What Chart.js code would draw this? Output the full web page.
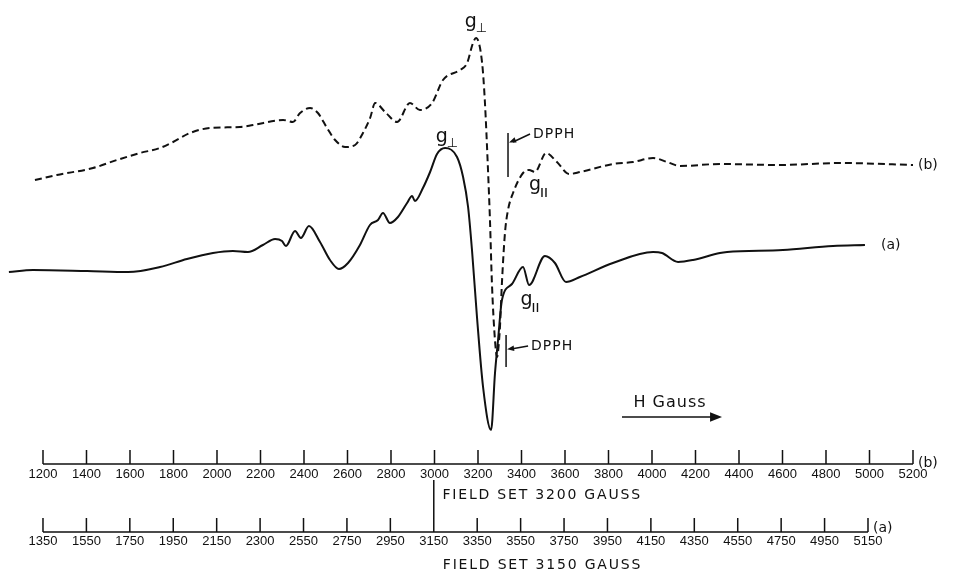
<!DOCTYPE html>
<html>
<head>
<meta charset="utf-8">
<script src="https://cdn.jsdelivr.net/npm/chart.js@4.4.1/dist/chart.umd.min.js"></script>
<style>
    html, body { margin: 0; padding: 0; background: #fff; }
    #wrap { width: 962px; height: 573px; position: relative; }
</style>
</head>
<body>
<div id="wrap"><canvas id="epr-chart"></canvas></div>
<script>
// Spectrum (a), field set 3150 G (lower field scale), arbitrary signal units
const fieldA = [1193, 1304, 1553, 1742, 1889, 2013, 2133, 2225, 2294, 2363, 2419, 2451, 2469, 2511, 2538,
    2575, 2626, 2672, 2713, 2755, 2810, 2856, 2893, 2916, 2948, 2985, 3027, 3050, 3063, 3100, 3133, 3165,
    3202, 3257, 3285, 3308, 3326, 3349, 3377, 3414, 3432, 3446, 3464, 3510, 3561, 3589, 3662, 3708, 3759, 3823,
    3975, 4160, 4201, 4275, 4344, 4468, 4501, 4758, 4989, 5136];
const signalA = [-2, 0, -1, -2, 3, 11, 17, 19, 18, 25, 31, 29, 24, 39, 32,
    44, 28, 10, 1, 7, 25, 45, 50, 57, 47, 53, 67, 74, 69, 82, 98, 116,
    122, 113, 93, 63, 20, -47, -117, -160, -103, -70, -30, -14, 3, -15, 14, 7, -12, -7,
    7, 18, 17, 8, 10, 17, 18, 20, 24, 25];

// Spectrum (b), field set 3200 G (upper field scale)
const fieldB = [1163, 1264, 1430, 1540, 1646, 1738, 1798, 1876, 1968, 2106, 2166, 2304, 2349, 2382, 2428,
    2464, 2506, 2543, 2589, 2635, 2671, 2704, 2727, 2773, 2828, 2887, 2933, 2989, 3039, 3117, 3150, 3177,
    3191, 3219, 3232, 3246, 3255, 3264, 3278, 3288, 3297, 3301, 3310, 3324, 3338, 3361, 3407, 3435, 3462,
    3513, 3563, 3619, 3669, 3821, 3913, 4005, 4069, 4129, 4313, 4589, 4865, 5200];
const signalB = [90, 95, 102, 110, 117, 122, 128, 137, 142, 143, 145, 150, 148, 157, 162,
    157, 142, 130, 123, 125, 137, 152, 167, 158, 148, 167, 160, 167, 190, 200, 207, 227,
    232, 207, 167, 100, 50, -13, -70, -87, -70, -57, -13, 37, 60, 77, 97, 100, 98,
    117, 108, 96, 98, 106, 108, 112, 108, 104, 106, 105, 107, 105];

// Field scales printed under the spectra
const ticksB = [1200, 1400, 1600, 1800, 2000, 2200, 2400, 2600, 2800, 3000, 3200,
    3400, 3600, 3800, 4000, 4200, 4400, 4600, 4800, 5000, 5200];
const ticksA = [1350, 1550, 1750, 1950, 2150, 2350, 2550, 2750, 2950, 3150,
    3350, 3550, 3750, 3950, 4150, 4350, 4550, 4750, 4950, 5150];
const tickLabelsA = ['1350', '1550', '1750', '1950', '2150', '2300', '2550', '2750', '2950', '3150',
    '3350', '3550', '3750', '3950', '4150', '4350', '4550', '4750', '4950', '5150'];

const toPoints = (xs, ys) => xs.map((x, i) => ({x: x, y: ys[i]}));

function drawArrowHead(ctx, x, y, angle, size) {
    ctx.save();
    ctx.translate(x, y);
    ctx.rotate(angle);
    ctx.beginPath();
    ctx.moveTo(0, 0);
    ctx.lineTo(-size, -size * 0.4);
    ctx.lineTo(-size, size * 0.4);
    ctx.closePath();
    ctx.fill();
    ctx.restore();
}

function drawG(ctx, x, y, sub) {
    ctx.font = '19px "DejaVu Sans"';
    ctx.textAlign = 'center';
    ctx.textBaseline = 'middle';
    ctx.fillText('g', x, y);
    ctx.textAlign = 'left';
    if (sub === 'perp') {
        ctx.font = '13px "DejaVu Sans"';
        ctx.fillText('\u22A5', x + 5, y + 7);
    } else {
        // parallel: two short upright bars
        ctx.lineWidth = 1.4;
        ctx.beginPath();
        ctx.moveTo(x + 7, y + 3);
        ctx.lineTo(x + 7, y + 12);
        ctx.moveTo(x + 11, y + 3);
        ctx.lineTo(x + 11, y + 12);
        ctx.stroke();
    }
}

const eprAnnotations = {
    id: 'eprAnnotations',
    afterDatasetsDraw(chart) {
        const {ctx} = chart;
        const xa = chart.scales.xa, xb = chart.scales.xb, y = chart.scales.y;
        ctx.save();
        ctx.fillStyle = '#111';
        ctx.strokeStyle = '#111';
        ctx.lineWidth = 1.5;

        // upper field scale (b)
        const yB = y.getPixelForValue(-194);
        ctx.beginPath();
        ctx.moveTo(xb.getPixelForValue(ticksB[0]), yB);
        ctx.lineTo(xb.getPixelForValue(ticksB[ticksB.length - 1]), yB);
        ticksB.forEach(t => {
            const px = xb.getPixelForValue(t);
            ctx.moveTo(px, yB);
            ctx.lineTo(px, yB - 14);
        });
        ctx.stroke();
        ctx.font = '13px "Liberation Sans"';
        ctx.textAlign = 'center';
        ctx.textBaseline = 'middle';
        ticksB.forEach(t => ctx.fillText(String(t), xb.getPixelForValue(t), yB + 10));

        // lower field scale (a)
        const yA = y.getPixelForValue(-262);
        ctx.beginPath();
        ctx.moveTo(xa.getPixelForValue(ticksA[0]), yA);
        ctx.lineTo(xa.getPixelForValue(ticksA[ticksA.length - 1]), yA);
        ticksA.forEach(t => {
            const px = xa.getPixelForValue(t);
            ctx.moveTo(px, yA);
            ctx.lineTo(px, yA - 14);
        });
        // field set marker
        const pSet = xa.getPixelForValue(3150);
        ctx.moveTo(pSet, yA);
        ctx.lineTo(pSet, yA - 52);
        ctx.stroke();
        ticksA.forEach((t, i) => ctx.fillText(tickLabelsA[i], xa.getPixelForValue(t), yA + 9));

        ctx.font = '14px "DejaVu Sans"';
        ctx.textAlign = 'left';
        ctx.fillText('(b)', xb.getPixelForValue(5200) + 5, yB - 1);
        ctx.fillText('(a)', xa.getPixelForValue(5150) + 5, yA - 4);

        ctx.font = '14px "DejaVu Sans"';
        ctx.letterSpacing = '1.8px';
        ctx.fillText('FIELD SET 3200 GAUSS', xb.getPixelForValue(3000) + 8, yB + 31);
        ctx.fillText('FIELD SET 3150 GAUSS', xa.getPixelForValue(3150) + 9, yA + 33);
        ctx.letterSpacing = '0px';

        // trace labels
        ctx.font = '14px "DejaVu Sans"';
        ctx.fillText('(b)', xb.getPixelForValue(5223), y.getPixelForValue(105));
        ctx.fillText('(a)', xa.getPixelForValue(5210), y.getPixelForValue(25));

        drawG(ctx, xb.getPixelForValue(3167), y.getPixelForValue(248), 'perp');
        drawG(ctx, xa.getPixelForValue(3187), y.getPixelForValue(133), 'perp');
        drawG(ctx, xb.getPixelForValue(3462), y.getPixelForValue(85), 'par');
        drawG(ctx, xa.getPixelForValue(3577), y.getPixelForValue(-30), 'par');

        // DPPH markers: [scale, field, top, bottom, text offset, arrow offset]
        ctx.lineWidth = 1.5;
        ctx.font = '14px "DejaVu Sans"';
        ctx.letterSpacing = '1px';
        ctx.textBaseline = 'middle';
        [[xb, 3338, 137, 93, 1, 9], [xa, 3483, -65, -97, 11, 14]].forEach(([sc, f, top, bot, tOff, aOff]) => {
            const px = sc.getPixelForValue(f);
            const pt = y.getPixelForValue(top), pb = y.getPixelForValue(bot);
            ctx.beginPath();
            ctx.moveTo(px, pt);
            ctx.lineTo(px, pb);
            const ty = pt + tOff, ay = pt + aOff;
            ctx.moveTo(px + 22, ty);
            ctx.lineTo(px + 5, ay);
            ctx.stroke();
            drawArrowHead(ctx, px + 1, ay + (ay - ty) * 0.05, Math.atan2(ay - ty, -21), 7);
            ctx.fillText('DPPH', px + 25, ty);
        });
        ctx.letterSpacing = '0px';

        // field direction arrow
        const hy = y.getPixelForValue(-147);
        const h0 = xb.getPixelForValue(3862), h1 = xb.getPixelForValue(4322);
        ctx.beginPath();
        ctx.moveTo(h0, hy);
        ctx.lineTo(h1 - 4, hy);
        ctx.stroke();
        drawArrowHead(ctx, h1, hy, 0, 12);
        ctx.font = '16px "DejaVu Sans"';
        ctx.letterSpacing = '1px';
        ctx.textAlign = 'center';
        ctx.fillText('H Gauss', (h0 + h1) / 2 - 2, hy - 14);
        ctx.restore();
    }
};

new Chart(document.getElementById('epr-chart'), {
    type: 'line',
    data: {
        datasets: [{
            label: '(a)',
            data: toPoints(fieldA, signalA),
            xAxisID: 'xa',
            yAxisID: 'y',
            borderColor: '#111',
            borderWidth: 2,
            pointRadius: 0,
            cubicInterpolationMode: 'monotone'
        }, {
            label: '(b)',
            data: toPoints(fieldB, signalB),
            xAxisID: 'xb',
            yAxisID: 'y',
            borderColor: '#111',
            borderWidth: 2,
            borderDash: [7, 4],
            pointRadius: 0,
            cubicInterpolationMode: 'monotone'
        }]
    },
    options: {
        responsive: true,
        maintainAspectRatio: false,
        animation: false,
        layout: {padding: 0},
        plugins: {
            legend: {display: false},
            tooltip: {enabled: false}
        },
        scales: {
            xa: {type: 'linear', display: false, min: 1152, max: 5583},
            xb: {type: 'linear', display: false, min: 1002.3, max: 5425.3},
            y: {type: 'linear', display: false, min: -303, max: 270}
        }
    },
    plugins: [eprAnnotations]
});
</script>
</body>
</html>
